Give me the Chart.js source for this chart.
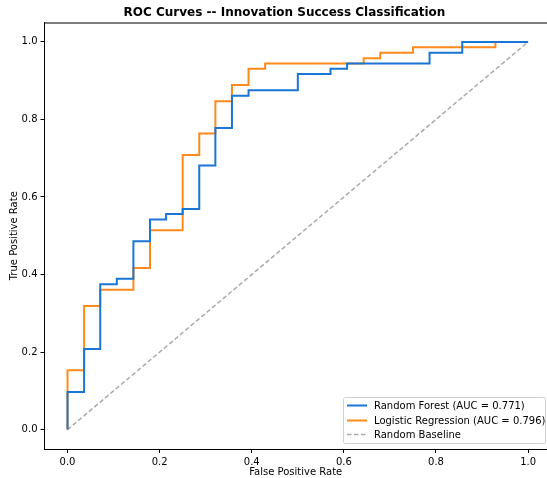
<!DOCTYPE html>
<html>
<head>
<meta charset="utf-8">
<script src="https://cdn.jsdelivr.net/npm/chart.js@4"></script>
<style>
  html, body { margin: 0; padding: 0; background: #fff; }
  #wrap { width: 547px; height: 478px; }
</style>
</head>
<body>
<div id="wrap"><canvas id="rocChart"></canvas></div>
<script>
const rfFpr = [0, 0, 0.036, 0.036, 0.071, 0.071, 0.107, 0.107, 0.143, 0.143, 0.179, 0.179, 0.214, 0.214, 0.25, 0.25, 0.286, 0.286, 0.321, 0.321, 0.357, 0.357, 0.393, 0.393, 0.5, 0.5, 0.571, 0.571, 0.607, 0.607, 0.786, 0.786, 0.857, 0.857, 1]
const rfTpr = [0, 0.097, 0.097, 0.208, 0.208, 0.375, 0.375, 0.389, 0.389, 0.486, 0.486, 0.542, 0.542, 0.556, 0.556, 0.569, 0.569, 0.681, 0.681, 0.778, 0.778, 0.861, 0.861, 0.875, 0.875, 0.917, 0.917, 0.931, 0.931, 0.944, 0.944, 0.972, 0.972, 1, 1]
const lrFpr = [0, 0, 0.036, 0.036, 0.071, 0.071, 0.143, 0.143, 0.179, 0.179, 0.25, 0.25, 0.286, 0.286, 0.321, 0.321, 0.357, 0.357, 0.393, 0.393, 0.429, 0.429, 0.643, 0.643, 0.679, 0.679, 0.75, 0.75, 0.929, 0.929, 1]
const lrTpr = [0, 0.153, 0.153, 0.319, 0.319, 0.361, 0.361, 0.417, 0.417, 0.514, 0.514, 0.708, 0.708, 0.764, 0.764, 0.847, 0.847, 0.889, 0.889, 0.931, 0.931, 0.944, 0.944, 0.958, 0.958, 0.972, 0.972, 0.986, 0.986, 1, 1]
const baseX = [0, 1]
const baseY = [0, 1]
const seriesLabels = ["Random Forest (AUC = 0.771)", "Logistic Regression (AUC = 0.796)", "Random Baseline"]
const chartTitle = "ROC Curves -- Innovation Success Classification"
const tickVals = [0, 0.2, 0.4, 0.6, 0.8, 1.0]

const toPts = (xs, ys) => xs.map((x, i) => ({x: x, y: ys[i]}))

const FONT = "'DejaVu Sans', sans-serif"
Chart.defaults.font.family = FONT
Chart.defaults.color = '#000'

// title, top spine and the legend in the lower right
const boxAndLegend = {
  id: 'boxAndLegend',
  afterDraw(chart) {
    const ctx = chart.ctx
    const a = chart.chartArea
    ctx.save()
    ctx.fillStyle = '#000'
    ctx.font = "bold 12px " + FONT
    ctx.textAlign = 'center'
    ctx.textBaseline = 'middle'
    ctx.fillText(chartTitle, 284.5, 12.5)
    ctx.textAlign = 'left'

    ctx.strokeStyle = '#000'
    ctx.lineWidth = 1
    ctx.beginPath()
    ctx.moveTo(a.left, a.top + 0.5)
    ctx.lineTo(a.right, a.top + 0.5)
    ctx.stroke()

    const lx = 343, ly = 397, lw = 202, lh = 46
    ctx.fillStyle = 'rgba(255,255,255,0.85)'
    ctx.strokeStyle = '#d0d0d0'
    ctx.beginPath()
    ctx.roundRect(lx + 0.5, ly + 0.5, lw, lh, 2)
    ctx.fill()
    ctx.stroke()

    const rows = [405.5, 420.5, 434.5]
    ctx.font = "10px " + FONT
    chart.data.datasets.forEach((ds, i) => {
      ctx.strokeStyle = ds.borderColor
      ctx.lineWidth = ds.borderWidth
      ctx.setLineDash(ds.borderDash || [])
      ctx.beginPath()
      ctx.moveTo(347, rows[i])
      ctx.lineTo(367, rows[i])
      ctx.stroke()
      ctx.setLineDash([])
      ctx.fillStyle = '#000'
      ctx.fillText(ds.label, 374, rows[i] + 0.5)
    })
    ctx.restore()
  }
}

const axisCommon = {
  type: 'linear',
  grid: {display: true, drawOnChartArea: false, drawTicks: true, tickLength: 4, color: '#000', lineWidth: 1},
  border: {display: true, color: '#000', width: 1},
  afterBuildTicks: s => { s.ticks = tickVals.map(v => ({value: v})) },
}

new Chart("rocChart", {
  type: "scatter",
  data: {
    datasets: [
      {
        label: seriesLabels[0],
        data: toPts(rfFpr, rfTpr),
        showLine: true,
        borderColor: "#1976D2",
        backgroundColor: "#1976D2",
        borderWidth: 2,
        pointRadius: 0,
        tension: 0,
      },
      {
        label: seriesLabels[1],
        data: toPts(lrFpr, lrTpr),
        showLine: true,
        borderColor: "#FF8A1C",
        backgroundColor: "#FF8A1C",
        borderWidth: 2,
        pointRadius: 0,
        tension: 0,
      },
      {
        label: seriesLabels[2],
        data: toPts(baseX, baseY),
        showLine: true,
        borderColor: "#aaaaaa",
        backgroundColor: "#aaaaaa",
        borderWidth: 1.5,
        borderDash: [4.5, 2.5],
        pointRadius: 0,
        tension: 0,
      },
    ]
  },
  options: {
    responsive: true,
    maintainAspectRatio: false,
    animation: false,
    layout: {padding: {left: 0, right: 0, top: 22.5, bottom: 0}},
    plugins: {
      legend: {display: false},
      tooltip: {enabled: false},
      title: {display: false},
    },
    scales: {
      x: Object.assign({}, axisCommon, {
        min: -0.05, max: 1.041,
        ticks: {font: {size: 10}, padding: 3, maxRotation: 0, callback: v => v.toFixed(1)},
        title: {display: true, text: "False Positive Rate", font: {size: 10}, padding: {top: 1, bottom: 0}},
        afterFit: s => { s.height = 29 },
      }),
      y: Object.assign({}, axisCommon, {
        min: -0.05, max: 1.05,
        ticks: {font: {size: 10}, padding: 3, callback: v => v.toFixed(1)},
        title: {display: true, text: "True Positive Rate", font: {size: 10}, padding: {top: 8, bottom: 2}},
        afterFit: s => { s.width = 44.5 },
      }),
    }
  },
  plugins: [boxAndLegend]
});
</script>
</body>
</html>
